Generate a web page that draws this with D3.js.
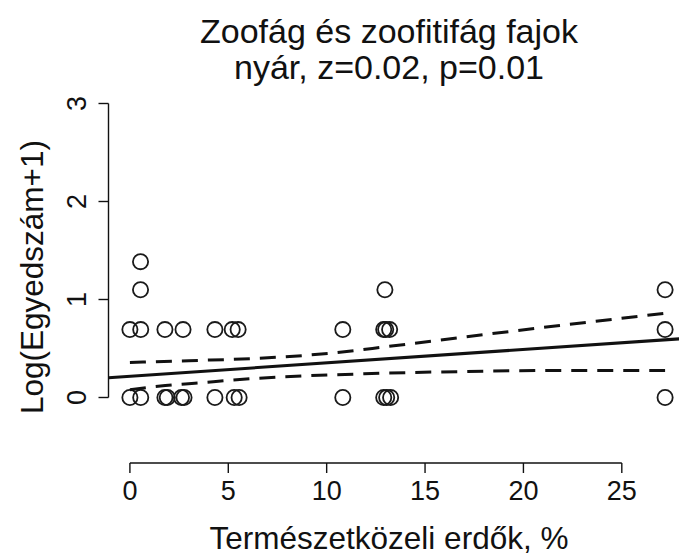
<!DOCTYPE html>
<html>
<head>
<meta charset="utf-8">
<script src="https://cdn.jsdelivr.net/npm/d3@7"></script>
<style>
  html, body { margin: 0; padding: 0; background: #fff; }
  svg { display: block; }
  text { font-family: "Liberation Sans", Arial, sans-serif; fill: #111; }
</style>
</head>
<body>
<svg id="chart" width="679" height="556"></svg>
<script>
// Observations: natural forest cover (%) and log(count + 1)
const forestPct = [
  0.54,
  0.54, 12.96, 27.2,
  0, 0.55, 1.78, 2.7, 4.32, 5.2, 5.5, 10.82, 12.9, 13.0, 13.2, 27.2,
  0, 0.55, 1.78, 1.9, 2.62, 2.75, 4.32, 5.3, 5.55, 10.82, 12.9, 13.05, 13.25, 27.2
];
const logCount = [
  1.386,
  1.099, 1.099, 1.099,
  0.693, 0.693, 0.693, 0.693, 0.693, 0.693, 0.693, 0.693, 0.693, 0.693, 0.693, 0.693,
  0, 0, 0, 0, 0, 0, 0, 0, 0, 0, 0, 0, 0, 0
];

// Fitted regression line (intercept, slope)
const fitIntercept = 0.217;
const fitSlope = 0.01366;

// Confidence band, sampled along the x range
const bandUpperX = [0, 3, 6.35, 10.4, 13.1, 17, 21.85, 27.2];
const bandUpperY = [0.357, 0.376, 0.398, 0.456, 0.52, 0.617, 0.735, 0.86];
const bandLowerX = [0, 1.8, 3.3, 6.35, 11.9, 17, 21.85, 27.2];
const bandLowerY = [0.08, 0.122, 0.146, 0.194, 0.242, 0.265, 0.276, 0.276];

// Axis ticks and labels
const xTicks = [0, 5, 10, 15, 20, 25];
const yTicks = [0, 1, 2, 3];
const titleLines = ["Zoofág és zoofitifág fajok", "nyár, z=0.02, p=0.01"];
const xLabel = "Természetközeli erdők, %";
const yLabel = "Log(Egyedszám+1)";

const svg = d3.select("#chart");

// Plot region: x data range padded by 4% on each side; the y range
// reaches below zero so the region's bottom edge carries the x axis
const xMin = d3.min(forestPct), xMax = d3.max(forestPct);
const xPad = (xMax - xMin) * 0.04;
const x = d3.scaleLinear().domain([xMin - xPad, xMax + xPad]).range([108.5, 686.5]);
const y = d3.scaleLinear().domain([0, 3]).range([397.5, 103.5]);
const plotTop = 91, plotBottom = 463;

const ink = "#111";
const tickFont = 27;
const labelFont = 31.5;
const titleFont = 34;
const centreX = 389;

// y axis along the left edge of the plot region
const yAxis = svg.append("g").attr("transform", `translate(${x.range()[0]},0)`);
yAxis.append("line")
  .attr("x1", 0).attr("x2", 0)
  .attr("y1", y(yTicks[0])).attr("y2", y(yTicks[yTicks.length - 1]))
  .attr("stroke", ink).attr("stroke-width", 1.4);
yAxis.selectAll("line.tick").data(yTicks).join("line")
  .attr("class", "tick")
  .attr("x1", 0).attr("x2", -10)
  .attr("y1", d => y(d)).attr("y2", d => y(d))
  .attr("stroke", ink).attr("stroke-width", 1.4);
yAxis.selectAll("text").data(yTicks).join("text")
  .attr("transform", d => `translate(-23,${y(d)}) rotate(-90)`)
  .attr("text-anchor", "middle")
  .attr("font-size", tickFont)
  .text(d => d);

// x axis on the bottom edge of the plot region
const xAxis = svg.append("g").attr("transform", `translate(0,${plotBottom})`);
xAxis.append("line")
  .attr("x1", x(xTicks[0])).attr("x2", x(xTicks[xTicks.length - 1]))
  .attr("y1", 0).attr("y2", 0)
  .attr("stroke", ink).attr("stroke-width", 1.4);
xAxis.selectAll("line.tick").data(xTicks).join("line")
  .attr("class", "tick")
  .attr("x1", d => x(d)).attr("x2", d => x(d))
  .attr("y1", 0).attr("y2", 10)
  .attr("stroke", ink).attr("stroke-width", 1.4);
xAxis.selectAll("text").data(xTicks).join("text")
  .attr("x", d => x(d)).attr("y", 37)
  .attr("text-anchor", "middle")
  .attr("font-size", tickFont)
  .text(d => d);

// Points
svg.append("g").selectAll("circle").data(forestPct.map((v, i) => [v, logCount[i]])).join("circle")
  .attr("cx", d => x(d[0])).attr("cy", d => y(d[1]))
  .attr("r", 7.6)
  .attr("fill", "none")
  .attr("stroke", "#1a1a1a")
  .attr("stroke-width", 1.8);

// Regression line across the whole plot region
const xr = x.domain();
svg.append("line")
  .attr("x1", x(xr[0])).attr("y1", y(fitIntercept + fitSlope * xr[0]))
  .attr("x2", x(xr[1])).attr("y2", y(fitIntercept + fitSlope * xr[1]))
  .attr("stroke", ink).attr("stroke-width", 3);

// Confidence band as dashed curves
const band = d3.line().x(d => x(d[0])).y(d => y(d[1])).curve(d3.curveMonotoneX);
[[bandUpperX, bandUpperY], [bandLowerX, bandLowerY]].forEach(([bx, by]) => {
  svg.append("path")
    .datum(bx.map((v, i) => [v, by[i]]))
    .attr("d", band)
    .attr("fill", "none")
    .attr("stroke", ink)
    .attr("stroke-width", 3)
    .attr("stroke-dasharray", "16 10");
});

// Titles
svg.append("g").selectAll("text").data(titleLines).join("text")
  .attr("x", centreX).attr("y", (d, i) => 43 + i * 36)
  .attr("text-anchor", "middle")
  .attr("font-size", titleFont)
  .text(d => d);

svg.append("text")
  .attr("x", centreX).attr("y", 549)
  .attr("text-anchor", "middle")
  .attr("font-size", labelFont)
  .text(xLabel);

svg.append("text")
  .attr("transform", `translate(43,${(plotTop + plotBottom) / 2}) rotate(-90)`)
  .attr("text-anchor", "middle")
  .attr("font-size", labelFont)
  .text(yLabel);
</script>
</body>
</html>
